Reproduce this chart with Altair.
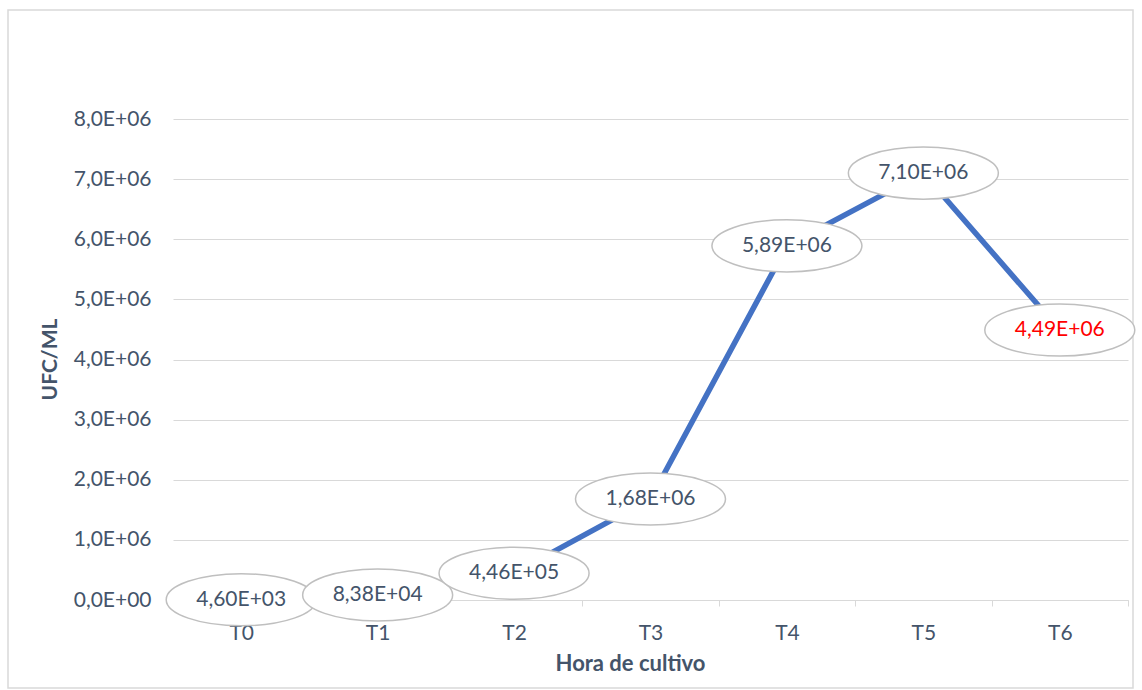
import altair as alt
import pandas as pd

categories = ["T0", "T1", "T2", "T3", "T4", "T5", "T6"]
values = [4.60e3, 8.38e4, 4.46e5, 1.68e6, 5.89e6, 7.10e6, 4.49e6]
label_colors = ["#44546A", "#44546A", "#44546A", "#44546A", "#44546A", "#44546A", "#FF0000"]
y_ticks = [0, 1e6, 2e6, 3e6, 4e6, 5e6, 6e6, 7e6, 8e6]

labels = [f"{v:.2E}".replace(".", ",") for v in values]
df = pd.DataFrame({"cat": categories, "val": values, "label": labels, "color": label_colors})

FONT = "Lato"
TXT = "#44546A"
GRID = "#D9D9D9"

x_enc = alt.X(
    "cat:N",
    sort=categories,
    bandPosition=0.5,
    scale=alt.Scale(type="band", paddingInner=0, paddingOuter=0),
    axis=alt.Axis(
        title="Hora de cultivo",
        labelAngle=0,
        tickBand="extent",
        tickSize=6,
        tickColor=GRID,
        domainColor=GRID,
        labelFont=FONT,
        labelFontSize=21,
        labelColor=TXT,
        labelPadding=16,
        titleFont=FONT,
        titleFontSize=22,
        titleFontWeight="bold",
        titleColor=TXT,
        titleX=457,
        titleY=63,
        titleAlign="center",
        titleBaseline="middle",
        grid=False,
    ),
)

y_enc = alt.Y(
    "val:Q",
    scale=alt.Scale(domain=[0, 8e6], nice=False),
    axis=alt.Axis(
        values=y_ticks,
        labelExpr="datum.value == 0 ? '0,0E+00' : replace(format(datum.value / 1e6, '.1f'), '.', ',') + 'E+06'",
        title="UFC/ML",
        ticks=False,
        domain=False,
        gridColor=GRID,
        labelFont=FONT,
        labelFontSize=21,
        labelColor=TXT,
        labelPadding=22,
        titleFont=FONT,
        titleFontSize=21,
        titleFontWeight="bold",
        titleColor=TXT,
        titleX=-123,
        titleY=240,
        titleAngle=270,
        titleAlign="center",
        titleBaseline="middle",
    ),
)

base = alt.Chart(df)

line = base.mark_line(color="#4472C4", strokeWidth=5.5).encode(x=x_enc, y=y_enc)

ellipse_path = "M -1 0 A 1 0.347 0 1 0 1 0 A 1 0.347 0 1 0 -1 0 Z"
ellipses = base.mark_point(
    shape=ellipse_path,
    size=22500,
    filled=True,
    fill="white",
    stroke="#BFBFBF",
    strokeWidth=1.5,
    opacity=1,
).encode(x=x_enc, y=y_enc)

texts = base.mark_text(font=FONT, fontSize=21, baseline="middle", align="center").encode(
    x=x_enc,
    y=y_enc,
    text="label:N",
    color=alt.Color("color:N", scale=None),
)

border = alt.Chart(pd.DataFrame({"a": [0]})).mark_rect(
    fillOpacity=0, stroke=GRID, strokeWidth=1.5
).encode(
    x=alt.value(-165), x2=alt.value(960), y=alt.value(-109), y2=alt.value(569)
)

chart = (
    alt.layer(border, line, ellipses, texts)
    .properties(
        width=955,
        height=481,
        padding={"left": 173, "top": 119, "right": 14, "bottom": 90},
        autosize=alt.AutoSizeParams(type="none"),
        background="white",
    )
    .configure_view(stroke=None)
)

chart.save("out.html", embed_options={"renderer": "svg", "actions": False})
